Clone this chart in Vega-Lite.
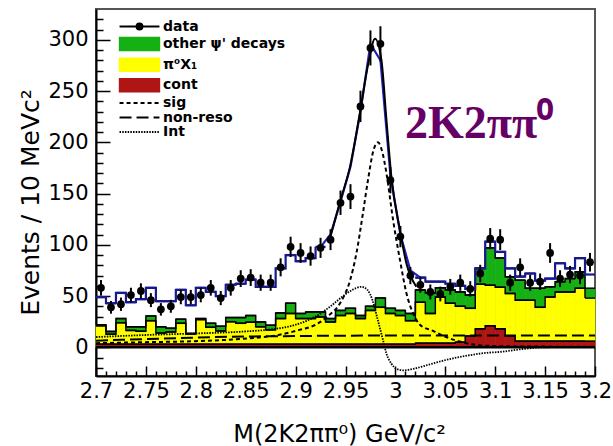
{
  "$schema": "https://vega.github.io/schema/vega-lite/v6.json",
  "width": 499,
  "height": 367,
  "autosize": {"type": "none"},
  "padding": {"left": 96, "top": 9, "right": 18, "bottom": 70},
  "background": "white",
  "config": {"view": {"stroke": "#555555", "strokeWidth": 2}, "axis": {"grid": false}},
  "datasets": {
    "bins": [
      {"lo": 2.70, "hi": 2.71, "m": 2.705, "n": 58, "e": 7.6, "tot": 49, "g": 22, "yl": 21, "r": 3},
      {"lo": 2.71, "hi": 2.72, "m": 2.715, "n": 39, "e": 6.2, "tot": 43, "g": 15.5, "yl": 12.7, "r": 3},
      {"lo": 2.72, "hi": 2.73, "m": 2.725, "n": 42, "e": 6.5, "tot": 53, "g": 28, "yl": 24, "r": 3},
      {"lo": 2.73, "hi": 2.74, "m": 2.735, "n": 51, "e": 7.1, "tot": 44, "g": 20, "yl": 16.5, "r": 3},
      {"lo": 2.74, "hi": 2.75, "m": 2.745, "n": 55, "e": 7.4, "tot": 47, "g": 20, "yl": 15.6, "r": 3},
      {"lo": 2.75, "hi": 2.76, "m": 2.755, "n": 46, "e": 6.8, "tot": 58, "g": 30.5, "yl": 26, "r": 3},
      {"lo": 2.76, "hi": 2.77, "m": 2.765, "n": 37, "e": 6.1, "tot": 45, "g": 20, "yl": 14, "r": 3},
      {"lo": 2.77, "hi": 2.78, "m": 2.775, "n": 40, "e": 6.3, "tot": 45, "g": 18.6, "yl": 15, "r": 3},
      {"lo": 2.78, "hi": 2.79, "m": 2.785, "n": 49, "e": 7, "tot": 56, "g": 27.4, "yl": 23.4, "r": 3},
      {"lo": 2.79, "hi": 2.80, "m": 2.795, "n": 49, "e": 7, "tot": 41, "g": 13.5, "yl": 13, "r": 3},
      {"lo": 2.80, "hi": 2.81, "m": 2.805, "n": 51, "e": 7.1, "tot": 58, "g": 28, "yl": 27, "r": 3},
      {"lo": 2.81, "hi": 2.82, "m": 2.815, "n": 58, "e": 7.6, "tot": 54, "g": 23.4, "yl": 19.5, "r": 3},
      {"lo": 2.82, "hi": 2.83, "m": 2.825, "n": 48, "e": 6.9, "tot": 50, "g": 20.5, "yl": 16, "r": 3},
      {"lo": 2.83, "hi": 2.84, "m": 2.835, "n": 58, "e": 7.6, "tot": 61, "g": 29, "yl": 25, "r": 3},
      {"lo": 2.84, "hi": 2.85, "m": 2.845, "n": 67, "e": 8.2, "tot": 62, "g": 29, "yl": 23.4, "r": 3},
      {"lo": 2.85, "hi": 2.86, "m": 2.855, "n": 68, "e": 8.2, "tot": 66, "g": 31, "yl": 24.5, "r": 3},
      {"lo": 2.86, "hi": 2.87, "m": 2.865, "n": 63, "e": 7.9, "tot": 59, "g": 24.7, "yl": 20, "r": 3},
      {"lo": 2.87, "hi": 2.88, "m": 2.875, "n": 63, "e": 7.9, "tot": 59, "g": 21.5, "yl": 17, "r": 3},
      {"lo": 2.88, "hi": 2.89, "m": 2.885, "n": 78, "e": 8.8, "tot": 77, "g": 33.5, "yl": 28, "r": 3},
      {"lo": 2.89, "hi": 2.90, "m": 2.895, "n": 98, "e": 9.9, "tot": 90, "g": 43, "yl": 33, "r": 3},
      {"lo": 2.90, "hi": 2.91, "m": 2.905, "n": 92, "e": 9.6, "tot": 84, "g": 33, "yl": 28, "r": 3},
      {"lo": 2.91, "hi": 2.92, "m": 2.915, "n": 89, "e": 9.4, "tot": 87, "g": 34.5, "yl": 28, "r": 3},
      {"lo": 2.92, "hi": 2.93, "m": 2.925, "n": 97, "e": 9.8, "tot": 98, "g": 34.5, "yl": 29.6, "r": 3},
      {"lo": 2.93, "hi": 2.94, "m": 2.935, "n": 105, "e": 10.2, "tot": 110, "g": 28, "yl": 24.7, "r": 3},
      {"lo": 2.94, "hi": 2.95, "m": 2.945, "n": 141, "e": 11.9, "tot": 142, "g": 36, "yl": 31, "r": 3},
      {"lo": 2.95, "hi": 2.96, "m": 2.955, "n": 147, "e": 12.1, "tot": 176, "g": 38, "yl": 33, "r": 3},
      {"lo": 2.96, "hi": 2.97, "m": 2.965, "n": 235, "e": 15.3, "tot": 230, "g": 31, "yl": 28, "r": 3},
      {"lo": 2.97, "hi": 2.98, "m": 2.975, "n": 292, "e": 17.1, "tot": 296, "g": 40, "yl": 36, "r": 3},
      {"lo": 2.98, "hi": 2.99, "m": 2.985, "n": 296, "e": 17.2, "tot": 280, "g": 48, "yl": 39, "r": 3},
      {"lo": 2.99, "hi": 3.00, "m": 2.995, "n": 163, "e": 12.8, "tot": 168, "g": 38, "yl": 33, "r": 3},
      {"lo": 3.00, "hi": 3.01, "m": 3.005, "n": 108, "e": 10.4, "tot": 110, "g": 36, "yl": 31, "r": 3},
      {"lo": 3.01, "hi": 3.02, "m": 3.015, "n": 70, "e": 8.4, "tot": 75, "g": 33, "yl": 26, "r": 3},
      {"lo": 3.02, "hi": 3.03, "m": 3.025, "n": 61, "e": 7.8, "tot": 68, "g": 56, "yl": 44, "r": 4},
      {"lo": 3.03, "hi": 3.04, "m": 3.035, "n": 54, "e": 7.3, "tot": 64, "g": 53, "yl": 33, "r": 4},
      {"lo": 3.04, "hi": 3.05, "m": 3.045, "n": 52, "e": 7.2, "tot": 64, "g": 58, "yl": 49, "r": 4},
      {"lo": 3.05, "hi": 3.06, "m": 3.055, "n": 59, "e": 7.7, "tot": 62, "g": 56, "yl": 43, "r": 4},
      {"lo": 3.06, "hi": 3.07, "m": 3.065, "n": 63, "e": 7.9, "tot": 60, "g": 54, "yl": 40, "r": 5},
      {"lo": 3.07, "hi": 3.08, "m": 3.075, "n": 57, "e": 7.5, "tot": 57, "g": 51, "yl": 38, "r": 11},
      {"lo": 3.08, "hi": 3.09, "m": 3.085, "n": 72, "e": 8.5, "tot": 77, "g": 77, "yl": 61.6, "r": 18},
      {"lo": 3.09, "hi": 3.10, "m": 3.095, "n": 106, "e": 10.3, "tot": 103, "g": 97, "yl": 60.6, "r": 21},
      {"lo": 3.10, "hi": 3.11, "m": 3.105, "n": 105, "e": 10.2, "tot": 93, "g": 87, "yl": 58.6, "r": 18},
      {"lo": 3.11, "hi": 3.12, "m": 3.115, "n": 63, "e": 7.9, "tot": 77, "g": 68.7, "yl": 52.5, "r": 11},
      {"lo": 3.12, "hi": 3.13, "m": 3.125, "n": 78, "e": 8.8, "tot": 69, "g": 65.5, "yl": 46, "r": 6},
      {"lo": 3.13, "hi": 3.14, "m": 3.135, "n": 63, "e": 7.9, "tot": 72, "g": 57.6, "yl": 46, "r": 6},
      {"lo": 3.14, "hi": 3.15, "m": 3.145, "n": 64, "e": 8, "tot": 65, "g": 57.6, "yl": 39, "r": 6},
      {"lo": 3.15, "hi": 3.16, "m": 3.155, "n": 92, "e": 9.6, "tot": 67, "g": 59, "yl": 49, "r": 6},
      {"lo": 3.16, "hi": 3.17, "m": 3.165, "n": 67, "e": 8.2, "tot": 82, "g": 64, "yl": 54, "r": 6},
      {"lo": 3.17, "hi": 3.18, "m": 3.175, "n": 71, "e": 8.4, "tot": 77, "g": 67, "yl": 54, "r": 6},
      {"lo": 3.18, "hi": 3.19, "m": 3.185, "n": 70, "e": 8.4, "tot": 87, "g": 73.6, "yl": 57.6, "r": 6},
      {"lo": 3.19, "hi": 3.20, "m": 3.195, "n": 83, "e": 9.1, "tot": 71, "g": 57.6, "yl": 48, "r": 6}
    ],
    "curves": [
      {"c": "sig", "x": 2.70, "y": 4}, {"c": "sig", "x": 2.75, "y": 5}, {"c": "sig", "x": 2.80, "y": 6},
      {"c": "sig", "x": 2.854, "y": 8.8}, {"c": "sig", "x": 2.881, "y": 11.7}, {"c": "sig", "x": 2.904, "y": 17},
      {"c": "sig", "x": 2.92, "y": 22}, {"c": "sig", "x": 2.932, "y": 30}, {"c": "sig", "x": 2.9445, "y": 43},
      {"c": "sig", "x": 2.9545, "y": 65}, {"c": "sig", "x": 2.961, "y": 92}, {"c": "sig", "x": 2.9675, "y": 131},
      {"c": "sig", "x": 2.9725, "y": 163}, {"c": "sig", "x": 2.978, "y": 192}, {"c": "sig", "x": 2.9826, "y": 200},
      {"c": "sig", "x": 2.987, "y": 190}, {"c": "sig", "x": 2.991, "y": 170}, {"c": "sig", "x": 2.9977, "y": 124},
      {"c": "sig", "x": 3.0046, "y": 85}, {"c": "sig", "x": 3.011, "y": 53}, {"c": "sig", "x": 3.0178, "y": 33},
      {"c": "sig", "x": 3.0246, "y": 22}, {"c": "sig", "x": 3.0377, "y": 16}, {"c": "sig", "x": 3.051, "y": 10},
      {"c": "sig", "x": 3.071, "y": 4}, {"c": "sig", "x": 3.091, "y": 1.5}, {"c": "sig", "x": 3.13, "y": 0.8},
      {"c": "sig", "x": 3.2, "y": 0.5},
      {"c": "nr", "x": 2.70, "y": 6.5}, {"c": "nr", "x": 2.75, "y": 8}, {"c": "nr", "x": 2.80, "y": 9.5},
      {"c": "nr", "x": 2.85, "y": 10.5}, {"c": "nr", "x": 2.90, "y": 11}, {"c": "nr", "x": 3.0, "y": 11.5},
      {"c": "nr", "x": 3.2, "y": 11.5},
      {"c": "int", "x": 2.70, "y": 10}, {"c": "int", "x": 2.75, "y": 12}, {"c": "int", "x": 2.80, "y": 13.5},
      {"c": "int", "x": 2.85, "y": 15.5}, {"c": "int", "x": 2.88, "y": 18}, {"c": "int", "x": 2.90, "y": 22},
      {"c": "int", "x": 2.92, "y": 30}, {"c": "int", "x": 2.935, "y": 40}, {"c": "int", "x": 2.945, "y": 48},
      {"c": "int", "x": 2.955, "y": 55}, {"c": "int", "x": 2.966, "y": 59}, {"c": "int", "x": 2.972, "y": 56},
      {"c": "int", "x": 2.977, "y": 46}, {"c": "int", "x": 2.982, "y": 28}, {"c": "int", "x": 2.9876, "y": 7},
      {"c": "int", "x": 2.991, "y": -6}, {"c": "int", "x": 2.996, "y": -16}, {"c": "int", "x": 3.001, "y": -21},
      {"c": "int", "x": 3.008, "y": -22.5}, {"c": "int", "x": 3.02, "y": -20.5}, {"c": "int", "x": 3.035, "y": -16.5},
      {"c": "int", "x": 3.05, "y": -12.5}, {"c": "int", "x": 3.07, "y": -8.5}, {"c": "int", "x": 3.09, "y": -5.5},
      {"c": "int", "x": 3.105, "y": -4.5}, {"c": "int", "x": 3.125, "y": -2}, {"c": "int", "x": 3.148, "y": 0},
      {"c": "int", "x": 3.2, "y": 0.3}
    ],
    "fit": [
      {"x": 2.9345, "y": 106.5}, {"x": 2.9445, "y": 142}, {"x": 2.9545, "y": 176}, {"x": 2.9645, "y": 229},
      {"x": 2.9729, "y": 277}, {"x": 2.9796, "y": 301}, {"x": 2.986, "y": 280}, {"x": 2.991, "y": 222},
      {"x": 2.996, "y": 166}, {"x": 3.0046, "y": 114}, {"x": 3.011, "y": 82}, {"x": 3.021, "y": 59}
    ]
  },
  "resolve": {"axis": {"x": "independent", "y": "independent"}},
  "layer": [
    {
      "data": {"name": "bins"},
      "mark": {"type": "rect", "stroke": "#14b014", "strokeWidth": 0.6},
      "encoding": {
        "x": {"field": "lo", "type": "quantitative",
          "scale": {"domain": [2.7, 3.2], "nice": false, "zero": false},
          "axis": {"values": [2.7, 2.75, 2.8, 2.85, 2.9, 2.95, 3, 3.05, 3.1, 3.15, 3.2], "format": "~g",
            "labelFont": "DejaVu Sans", "labelFontSize": 21, "labelColor": "black", "labelPadding": 14,
            "labelFlush": false, "labelOverlap": false, "labelBound": false,
            "tickSize": -10, "tickColor": "black", "tickWidth": 1.5,
            "domainColor": "black", "domainWidth": 2,
            "title": "M(2K2ππ⁰) GeV/c²", "titleFont": "DejaVu Sans", "titleFontSize": 24, "titleFontWeight": "normal",
            "titleColor": "black", "titleX": 243, "titleY": 65, "titleBaseline": "alphabetic", "titleAlign": "center"}},
        "x2": {"field": "hi"},
        "y": {"field": "g", "type": "quantitative",
          "scale": {"domain": [-28, 330], "nice": false, "zero": false},
          "axis": {"values": [0, 50, 100, 150, 200, 250, 300],
            "labelFont": "DejaVu Sans", "labelFontSize": 21, "labelColor": "black", "labelPadding": 22,
            "labelFlush": false, "labelOverlap": false,
            "tickSize": -14, "tickColor": "black", "tickWidth": 1.5,
            "domainColor": "black", "domainWidth": 2,
            "title": "Events / 10 MeVc²", "titleFont": "DejaVu Sans", "titleFontSize": 25, "titleFontWeight": "normal",
            "titleColor": "black", "titleX": -58, "titleY": 193, "titleBaseline": "alphabetic", "titleAlign": "center", "titleAngle": -90}},
        "y2": {"datum": 0},
        "color": {"datum": "other ψ' decays", "type": "nominal",
          "scale": {"domain": ["data", "other ψ' decays", "π⁰X₁", "cont", "sig", "non-reso", "Int"],
            "range": ["#000000", "#14b014", "#ffff00", "#b01515", "#000000", "#000000", "#000000"]},
          "legend": {"orient": "none", "legendX": 36.5, "legendY": 10.5, "title": null, "padding": 0,
            "symbolSize": 441, "symbolType": "square", "symbolStrokeColor": "black",
            "labelFont": "DejaVu Sans", "labelFontWeight": "bold", "labelFontSize": 14, "labelColor": "black",
            "labelOffset": 16.5, "rowPadding": 0.6, "labelLimit": 300,
            "encode": {"symbols": {"update": {
              "shape": {"signal": "datum.value === 'data' ? 'M-1.9,0H1.9M-0.28,0A0.28,0.28,0,1,1,0.28,0A0.28,0.28,0,1,1,-0.28,0' : (datum.value === 'sig' || datum.value === 'non-reso' || datum.value === 'Int') ? 'M-1.9,0H1.9' : 'M-1.9,-0.62H1.9V0.62H-1.9Z'"},
              "fill": {"signal": "scale('color', datum.value)"},
              "fillOpacity": {"value": 1},
              "opacity": {"value": 1},
              "stroke": {"value": "#000000"},
              "strokeWidth": {"signal": "(datum.value === 'sig' || datum.value === 'non-reso' || datum.value === 'Int' || datum.value === 'data') ? 2 : 1.5"},
              "strokeDash": {"signal": "datum.value === 'sig' ? [4, 3] : datum.value === 'non-reso' ? [12, 5] : datum.value === 'Int' ? [1.5, 1.2] : []"}
            }}}}}
      }
    },
    {
      "data": {"name": "bins"},
      "mark": {"type": "rect", "stroke": "#ffff00", "strokeWidth": 0.6},
      "encoding": {
        "x": {"field": "lo", "type": "quantitative", "axis": null},
        "x2": {"field": "hi"},
        "y": {"field": "yl", "type": "quantitative", "axis": null},
        "y2": {"datum": 0},
        "color": {"datum": "π⁰X₁", "type": "nominal"}
      }
    },
    {
      "data": {"name": "bins"},
      "mark": {"type": "rect", "stroke": "#b01515", "strokeWidth": 0.6},
      "encoding": {
        "x": {"field": "lo", "type": "quantitative",
          "axis": {"orient": "bottom", "values": [2.71, 2.72, 2.73, 2.74, 2.76, 2.77, 2.78, 2.79, 2.81, 2.82, 2.83, 2.84, 2.86, 2.87, 2.88, 2.89, 2.91, 2.92, 2.93, 2.94, 2.96, 2.97, 2.98, 2.99, 3.01, 3.02, 3.03, 3.04, 3.06, 3.07, 3.08, 3.09, 3.11, 3.12, 3.13, 3.14, 3.16, 3.17, 3.18, 3.19],
            "labels": false, "domain": false, "tickSize": -5, "tickColor": "black", "tickWidth": 1.5, "title": null}},
        "x2": {"field": "hi"},
        "y": {"field": "r", "type": "quantitative",
          "axis": {"orient": "left", "values": [-20, -10, 10, 20, 30, 40, 60, 70, 80, 90, 110, 120, 130, 140, 160, 170, 180, 190, 210, 220, 230, 240, 260, 270, 280, 290, 310, 320],
            "labels": false, "domain": false, "tickSize": -7, "tickColor": "black", "tickWidth": 1.5, "title": null}},
        "y2": {"datum": 0},
        "color": {"datum": "cont", "type": "nominal"}
      }
    },
    {
      "data": {"name": "bins"},
      "transform": [{"fold": ["g", "yl", "r"], "as": ["k", "v"]}],
      "mark": {"type": "line", "interpolate": "step-after", "color": "black", "strokeWidth": 1.5},
      "encoding": {
        "x": {"field": "lo", "type": "quantitative", "axis": null},
        "y": {"field": "v", "type": "quantitative", "axis": null},
        "detail": {"field": "k", "type": "nominal"}
      }
    },
    {
      "data": {"name": "bins"},
      "transform": [{"fold": ["g", "yl", "r"], "as": ["k", "v"]}],
      "mark": {"type": "rule", "color": "black", "strokeWidth": 1.5},
      "encoding": {
        "x": {"field": "lo", "type": "quantitative", "axis": null},
        "x2": {"field": "hi"},
        "y": {"field": "v", "type": "quantitative", "axis": null}
      }
    },
    {
      "data": {"values": [{}]},
      "mark": {"type": "rule", "color": "black", "strokeWidth": 2.5},
      "encoding": {"y": {"datum": 0, "type": "quantitative", "axis": null}}
    },
    {
      "data": {"name": "curves"},
      "transform": [{"filter": "datum.c === 'nr'"}],
      "mark": {"type": "line", "interpolate": "monotone", "strokeWidth": 2, "strokeDash": [12, 5]},
      "encoding": {
        "x": {"field": "x", "type": "quantitative", "axis": null},
        "y": {"field": "y", "type": "quantitative", "axis": null},
        "color": {"datum": "non-reso", "type": "nominal"}
      }
    },
    {
      "data": {"name": "curves"},
      "transform": [{"filter": "datum.c === 'sig'"}],
      "mark": {"type": "line", "interpolate": "monotone", "strokeWidth": 2, "strokeDash": [4, 3]},
      "encoding": {
        "x": {"field": "x", "type": "quantitative", "axis": null},
        "y": {"field": "y", "type": "quantitative", "axis": null},
        "color": {"datum": "sig", "type": "nominal"}
      }
    },
    {
      "data": {"name": "curves"},
      "transform": [{"filter": "datum.c === 'int'"}],
      "mark": {"type": "line", "interpolate": "monotone", "strokeWidth": 1.8, "strokeDash": [1.5, 1.2]},
      "encoding": {
        "x": {"field": "x", "type": "quantitative", "axis": null},
        "y": {"field": "y", "type": "quantitative", "axis": null},
        "color": {"datum": "Int", "type": "nominal"}
      }
    },
    {
      "data": {"name": "bins"},
      "transform": [{"filter": "datum.lo < 2.925"}],
      "mark": {"type": "line", "interpolate": "step-after", "color": "#18188f", "strokeWidth": 2.2},
      "encoding": {
        "x": {"field": "lo", "type": "quantitative", "axis": null},
        "y": {"field": "tot", "type": "quantitative", "axis": null}
      }
    },
    {
      "data": {"name": "bins"},
      "transform": [{"filter": "datum.lo > 3.015"}],
      "mark": {"type": "line", "interpolate": "step-after", "color": "#18188f", "strokeWidth": 2.2},
      "encoding": {
        "x": {"field": "lo", "type": "quantitative", "axis": null},
        "y": {"field": "tot", "type": "quantitative", "axis": null}
      }
    },
    {
      "data": {"name": "bins"},
      "transform": [{"filter": "datum.lo < 2.925 || datum.lo > 3.015"}],
      "mark": {"type": "rule", "color": "#18188f", "strokeWidth": 2.2},
      "encoding": {
        "x": {"field": "lo", "type": "quantitative", "axis": null},
        "x2": {"field": "hi"},
        "y": {"field": "tot", "type": "quantitative", "axis": null}
      }
    },
    {
      "data": {"name": "bins"},
      "transform": [{"filter": "datum.m > 2.92 && datum.m < 3.03"}],
      "mark": {"type": "line", "color": "#2020c0", "strokeWidth": 2.2},
      "encoding": {
        "x": {"field": "m", "type": "quantitative", "axis": null},
        "y": {"field": "tot", "type": "quantitative", "axis": null}
      }
    },
    {
      "data": {"name": "fit"},
      "mark": {"type": "line", "interpolate": "monotone", "color": "black", "strokeWidth": 2},
      "encoding": {
        "x": {"field": "x", "type": "quantitative", "axis": null},
        "y": {"field": "y", "type": "quantitative", "axis": null}
      }
    },
    {
      "data": {"name": "bins"},
      "mark": {"type": "errorbar", "color": "black", "thickness": 2, "ticks": false},
      "encoding": {
        "x": {"field": "m", "type": "quantitative", "axis": null},
        "y": {"field": "n", "type": "quantitative", "axis": null},
        "yError": {"field": "e"}
      }
    },
    {
      "data": {"name": "bins"},
      "mark": {"type": "circle", "size": 60, "opacity": 1},
      "encoding": {
        "x": {"field": "m", "type": "quantitative", "axis": null},
        "y": {"field": "n", "type": "quantitative", "axis": null},
        "color": {"datum": "data", "type": "nominal"}
      }
    },
    {
      "data": {"values": [{"label": "2K2ππ⁰"}]},
      "mark": {"type": "text", "font": "Liberation Serif", "fontWeight": "bold", "fontSize": 46, "fill": "#660066", "align": "center", "baseline": "alphabetic"},
      "encoding": {
        "x": {"datum": 3.0838, "type": "quantitative", "axis": null},
        "y": {"datum": 204, "type": "quantitative", "axis": null},
        "text": {"field": "label", "type": "nominal"}
      }
    }
  ]
}
